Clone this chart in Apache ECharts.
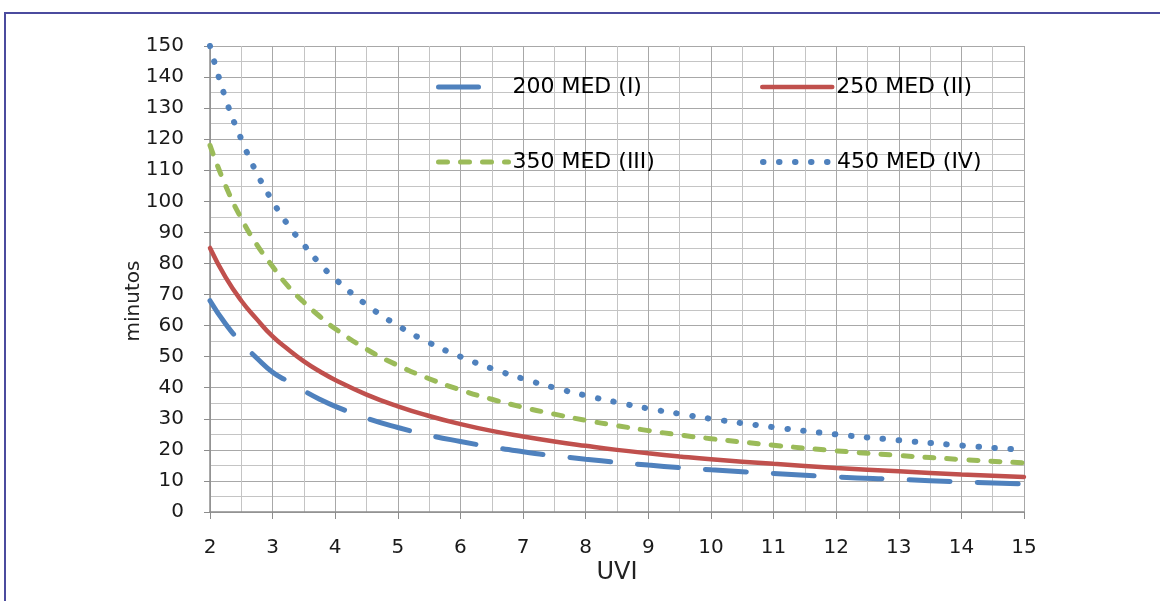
<!DOCTYPE html>
<html>
<head>
<meta charset="utf-8">
<title>MED - minutos por UVI</title>
<script src="https://cdn.jsdelivr.net/npm/echarts@6/dist/echarts.min.js"></script>
<style>
    body {
        margin: 0;
        background: #fff;
    }
    .wrap {
        position: relative;
        width: 1160px;
        height: 601px;
        overflow: hidden;
    }
    .frame {
        position: absolute;
        top: 12px;
        left: 4px;
        right: -10px;
        bottom: -10px;
        border: 2px solid #4b4b9e;
    }
    #myChart {
        position: absolute;
        top: 0;
        left: 0;
        width: 1160px;
        height: 601px;
    }
</style>
</head>
<body>

<div class="wrap">
    <div class="frame"></div>
    <div id="myChart"></div>
</div>

<script>

    // UVI (eje x)
    var uvi = [2, 2.25, 2.5, 2.75, 3, 3.25, 3.5, 3.75, 4, 4.5, 5, 5.5, 6, 6.5, 7, 7.5, 8, 8.5, 9, 9.5, 10, 11, 12, 13, 14, 15]

    // minutos
    var med200 = [68, 60.5, 54.5, 49.5, 45, 42, 39, 36.3, 34, 30.2, 27.2, 24.7, 22.7, 20.9, 19.4, 18.1, 17, 16, 15.1, 14.3, 13.6, 12.4, 11.3, 10.5, 9.7, 9]
    var med250 = [85, 75.5, 68, 62, 56.5, 52.3, 48.5, 45.3, 42.5, 37.8, 34, 30.9, 28.3, 26.1, 24.3, 22.7, 21.3, 20, 18.9, 17.9, 17, 15.5, 14.2, 13.1, 12.1, 11.3]
    var med350 = [118, 105, 94.5, 86, 79, 72.6, 67.5, 63, 59, 52.4, 47.2, 42.9, 39.3, 36.3, 33.7, 31.5, 29.5, 27.8, 26.2, 24.8, 23.6, 21.5, 19.7, 18.2, 16.9, 15.8]
    var med450 = [150, 133, 120, 109, 100, 92.3, 86, 80, 75, 66.7, 60, 54.5, 50, 46.2, 42.9, 40, 37.5, 35.3, 33.3, 31.6, 30, 27.3, 25, 23.1, 21.4, 20]

    var names = ['200 MED (I)', '250 MED (II)', '350 MED (III)', '450 MED (IV)']

    function pares (vals) {
        return uvi.map(function (x, i) { return [x, vals[i]] })
    }

    var font = 'DejaVu Sans'

    // estilos de linea
    var est = [
        { color: '#4f81bd', width: 5, type: [41, 27], cap: 'round' },
        { color: '#c0504d', width: 4.5, type: 'solid', cap: 'round' },
        { color: '#9bbb59', width: 5, type: [9, 13], cap: 'round' },
        { color: '#4f81bd', width: 6, type: [0.5, 15.5], cap: 'round' }
    ]

    function leyenda (i, left, top, tipo) {
        return {
            data: [names[i]],
            left: left,
            top: top,
            itemWidth: 70,
            itemHeight: 14,
            itemGap: 0,
            itemStyle: { opacity: 0 },
            lineStyle: { color: est[i].color, width: est[i].width, type: tipo || est[i].type, cap: est[i].cap },
            textStyle: { fontFamily: font, fontSize: 22, color: '#000', padding: [0, 0, 0, -1] }
        }
    }

    var myChart = echarts.init(document.getElementById('myChart'))

    myChart.setOption({
        animation: false,
        grid: { left: 210, right: 136, top: 46, bottom: 89 },
        legend: [
            leyenda(0, 431, 71, [40, 60]),
            leyenda(1, 755, 71),
            leyenda(2, 431, 146),
            leyenda(3, 755, 146)
        ],
        xAxis: {
            type: 'value',
            min: 2,
            max: 15,
            interval: 1,
            name: 'UVI',
            nameLocation: 'middle',
            nameGap: 49,
            nameMoveOverlap: false,
            nameTextStyle: { fontFamily: font, fontSize: 24, color: '#222' },
            axisLine: { lineStyle: { color: '#8c8c8c', width: 1.5 } },
            axisTick: { show: true, length: 7, lineStyle: { color: '#8c8c8c' } },
            axisLabel: { fontFamily: font, fontSize: 20, color: '#1a1a1a', margin: 26 },
            splitLine: { lineStyle: { color: '#a8a8a8' } },
            minorTick: { show: false, splitNumber: 2 },
            minorSplitLine: { show: true, lineStyle: { color: '#c4c4c4' } }
        },
        yAxis: {
            type: 'value',
            min: 0,
            max: 150,
            interval: 10,
            name: 'minutos',
            nameLocation: 'middle',
            nameGap: 66,
            nameMoveOverlap: false,
            nameTextStyle: { fontFamily: font, fontSize: 20, color: '#222', padding: [0, 44, 0, 0] },
            axisLine: { show: true, lineStyle: { color: '#8c8c8c', width: 1.5 } },
            axisTick: { show: true, length: 6, lineStyle: { color: '#8c8c8c' } },
            axisLabel: { fontFamily: font, fontSize: 20, color: '#1a1a1a', margin: 26 },
            splitLine: { lineStyle: { color: '#a8a8a8' } },
            minorTick: { show: false, splitNumber: 2 },
            minorSplitLine: { show: true, lineStyle: { color: '#c4c4c4' } }
        },
        series: [
            {
                name: names[0],
                type: 'line',
                smooth: true,
                symbol: 'none',
                color: est[0].color,
                lineStyle: est[0],
                data: pares(med200)
            },
            {
                name: names[1],
                type: 'line',
                smooth: true,
                symbol: 'none',
                color: est[1].color,
                lineStyle: est[1],
                data: pares(med250)
            },
            {
                name: names[2],
                type: 'line',
                smooth: true,
                symbol: 'none',
                color: est[2].color,
                lineStyle: est[2],
                data: pares(med350)
            },
            {
                name: names[3],
                type: 'line',
                smooth: true,
                symbol: 'none',
                color: est[3].color,
                lineStyle: est[3],
                data: pares(med450)
            }
        ]
    })

</script>

</body>
</html>
